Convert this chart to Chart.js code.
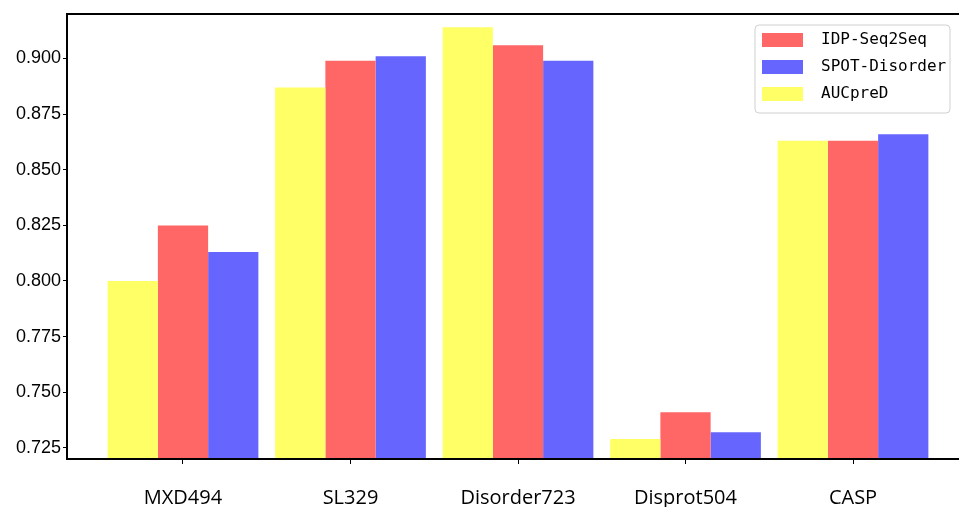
<!DOCTYPE html>
<html>
<head>
<meta charset="utf-8">
<script src="https://cdn.jsdelivr.net/npm/chart.js@4"></script>
<style>
  html, body { margin: 0; padding: 0; background: #fff; overflow: hidden; }
  #wrap { width: 1000px; height: 507px; }
</style>
</head>
<body>
<div id="wrap"><canvas id="aucChart" width="1000" height="507"></canvas></div>
<script>
// categories and values
const categories = ["MXD494", "SL329", "Disorder723", "Disprot504", "CASP"];
const aucpred = [0.800, 0.887, 0.914, 0.729, 0.863];
const idpSeq2Seq = [0.825, 0.899, 0.906, 0.741, 0.863];
const spotDisorder = [0.813, 0.901, 0.899, 0.732, 0.866];
const yTicks = [0.725, 0.75, 0.775, 0.8, 0.825, 0.85, 0.875, 0.9];

const toPoints = (arr) => arr.map((v, i) => ({ x: i, y: v }));

// box round the plot + legend inside the top right corner
const frameAndLegend = {
  id: "frameAndLegend",
  afterDraw(chart) {
    const { ctx, chartArea } = chart;
    ctx.save();
    ctx.strokeStyle = "#000";
    ctx.lineWidth = 2;
    ctx.strokeRect(chartArea.left, chartArea.top, chartArea.right - chartArea.left, chartArea.bottom - chartArea.top);

    const order = [1, 2, 0];
    const lx = chartArea.right - 214;
    const ly = chartArea.top + 11;
    ctx.beginPath();
    ctx.roundRect(lx, ly, 195, 88, 4);
    ctx.fillStyle = "rgba(255,255,255,0.8)";
    ctx.fill();
    ctx.strokeStyle = "#d0d0d0";
    ctx.lineWidth = 1;
    ctx.stroke();

    ctx.font = "16px 'DejaVu Sans Mono'";
    ctx.textBaseline = "middle";
    order.forEach((di, row) => {
      const ds = chart.data.datasets[di];
      const top = ly + 8 + row * 27;
      ctx.fillStyle = ds.backgroundColor;
      ctx.fillRect(lx + 7, top, 41, 14);
      ctx.fillStyle = "#000";
      ctx.fillText(ds.label, lx + 66, top + 7);
    });
    ctx.restore();
  },
};

new Chart(document.getElementById("aucChart"), {
  type: "bar",
  data: {
    datasets: [
      { label: "AUCpreD", data: toPoints(aucpred), backgroundColor: "#ffff66" },
      { label: "IDP-Seq2Seq", data: toPoints(idpSeq2Seq), backgroundColor: "#ff6666" },
      { label: "SPOT-Disorder", data: toPoints(spotDisorder), backgroundColor: "#6666ff" },
    ],
  },
  options: {
    responsive: false,
    animation: false,
    categoryPercentage: 0.9,
    barPercentage: 1.0,
    layout: { padding: { top: 14, right: 31 } },
    plugins: {
      legend: { display: false },
      tooltip: { enabled: false },
    },
    scales: {
      x: {
        type: "linear",
        min: -0.6925,
        max: 4.6925,
        offset: false,
        afterBuildTicks: (scale) => {
          scale.ticks = categories.map((c, i) => ({ value: i }));
        },
        afterFit: (scale) => {
          scale.height = 48;
        },
        grid: { offset: false, drawOnChartArea: false, tickLength: 5, color: "#000" },
        border: { display: false },
        ticks: {
          padding: 22,
          color: "#000",
          font: { family: "'Open Sans'", size: 20 },
          callback: (v) => categories[v],
          maxRotation: 0,
          autoSkip: false,
        },
      },
      y: {
        min: 0.72,
        max: 0.92,
        afterBuildTicks: (scale) => {
          scale.ticks = yTicks.map((v) => ({ value: v }));
        },
        afterFit: (scale) => {
          scale.width = 67;
        },
        grid: { drawOnChartArea: false, tickLength: 4, color: "#000" },
        border: { display: false },
        ticks: {
          padding: 2,
          color: "#000",
          font: { family: "'Liberation Sans'", size: 18 },
          callback: (v) => v.toFixed(3),
        },
      },
    },
  },
  plugins: [frameAndLegend],
});
</script>
</body>
</html>
